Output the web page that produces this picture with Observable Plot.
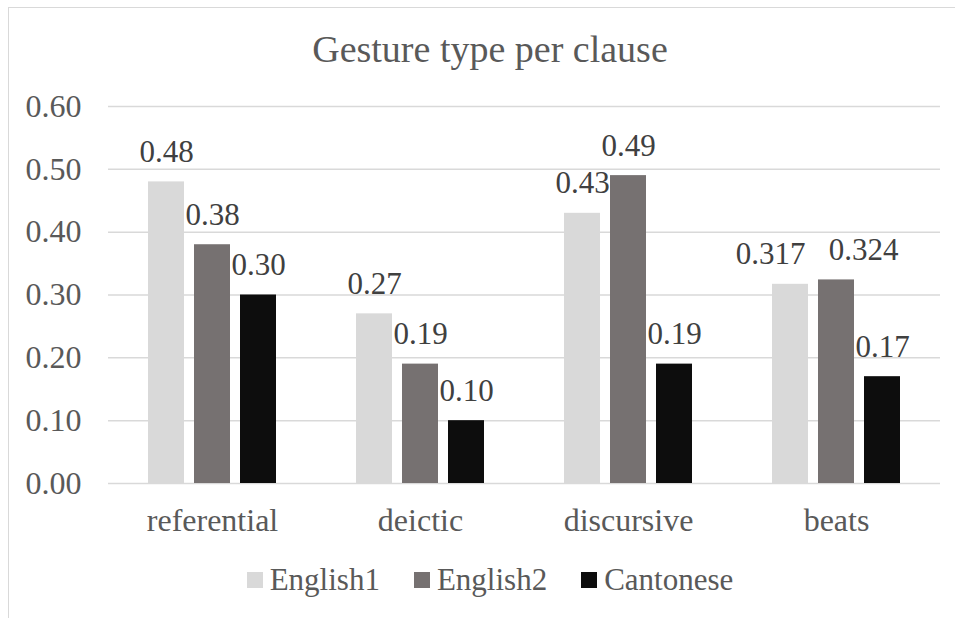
<!DOCTYPE html>
<html>
<head>
<meta charset="utf-8">
<script src="https://cdn.jsdelivr.net/npm/d3@7"></script>
<script src="https://cdn.jsdelivr.net/npm/@observablehq/plot@0.6"></script>
<style>
  html, body { margin: 0; padding: 0; background: #ffffff; }
  body { width: 955px; height: 618px; position: relative; overflow: hidden; font-family: "Liberation Serif"; }
  #frame { position: absolute; left: 8px; top: 7px; width: 1000px; height: 700px;
           border-left: 1.5px solid #d9d9d9; border-top: 1.5px solid #d9d9d9; }
  #title { position: absolute; left: 0; top: 30px; width: 980px; text-align: center;
           font-size: 38px; line-height: 38px; color: #595959; }
  #chart { position: absolute; left: 0; top: 80px; }
  #chart svg { overflow: visible; }
  #legend { position: absolute; left: 0; top: 564px; width: 980px; display: flex; justify-content: center;
            align-items: center; font-size: 31px; line-height: 31px; color: #595959; }
  .item { display: flex; align-items: center; margin: 0 17px; }
  .swatch { width: 16px; height: 16px; margin-right: 7px; }
</style>
</head>
<body>
<div id="frame"></div>
<div id="title">Gesture type per clause</div>
<div id="chart"></div>
<div id="legend"></div>
<script>
// Gesture categories and the three speaker groups
const categories = ["referential", "deictic", "discursive", "beats"];
const series = ["English1", "English2", "Cantonese"];

// Gestures per clause, one value per category
const english1 = [0.48, 0.27, 0.43, 0.317];
const english2 = [0.38, 0.19, 0.49, 0.324];
const cantonese = [0.30, 0.10, 0.19, 0.17];

// Value-axis ticks
const yTicks = [0.00, 0.10, 0.20, 0.30, 0.40, 0.50, 0.60];

const colors = ["#d9d9d9", "#767171", "#0d0d0d"];

const seriesValues = [english1, english2, cantonese];
const rows = categories.flatMap((category, i) =>
  series.map((s, j) => ({ category, series: s, value: seriesValues[j][i] }))
);

// Data labels keep at least two decimals, more when the value has them
const fmt = v => {
  const dec = (String(v).split(".")[1] || "").length;
  return v.toFixed(Math.max(2, dec));
};

// Labels in the crowded "beats" group are pushed sideways
const labelNudge = { "beats|English1": -20, "beats|English2": 27 };
const key = d => d.category + "|" + d.series;

const labelOpts = {
  fx: "category", x: "series", y: "value", text: d => fmt(d.value),
  lineAnchor: "bottom", dy: -20, fill: "#404040", fontSize: 31
};

const labelMarks = [
  Plot.text(rows.filter(d => !(key(d) in labelNudge)), labelOpts),
  ...Object.entries(labelNudge).map(([k, dx]) =>
    Plot.text(rows.filter(d => key(d) === k), { ...labelOpts, dx })
  )
];

const chart = Plot.plot({
  width: 955,
  height: 465,
  marginTop: 26,
  marginBottom: 62,
  marginLeft: 108,
  marginRight: 15,
  style: { fontFamily: "Liberation Serif", fontSize: "31px", color: "#595959", background: "transparent" },
  fx: { domain: categories, padding: 0, label: null },
  x: { domain: series, paddingInner: 0.217, paddingOuter: 0.867, axis: null },
  y: { domain: [0, 0.6], label: null, axis: null },
  color: { domain: series, range: colors },
  marks: [
    Plot.gridY(yTicks, { stroke: "#d9d9d9", strokeOpacity: 1, strokeWidth: 1.5 }),
    Plot.axisY(yTicks, { anchor: "left", tickSize: 0, tickPadding: 27, tickFormat: d3.format(".2f"), label: null, fontSize: 32 }),
    Plot.axisFx({ anchor: "bottom", tickSize: 0, tickPadding: 25, label: null, fontSize: 32 }),
    Plot.barY(rows, { fx: "category", x: "series", y: "value", fill: "series" }),
    ...labelMarks
  ]
});
document.getElementById("chart").appendChild(chart);

// Legend below the plot
const legend = document.getElementById("legend");
series.forEach((s, i) => {
  const item = document.createElement("div");
  item.className = "item";
  const sw = document.createElement("span");
  sw.className = "swatch";
  sw.style.background = colors[i];
  const label = document.createElement("span");
  label.textContent = s;
  item.appendChild(sw);
  item.appendChild(label);
  legend.appendChild(item);
});
</script>
</body>
</html>
